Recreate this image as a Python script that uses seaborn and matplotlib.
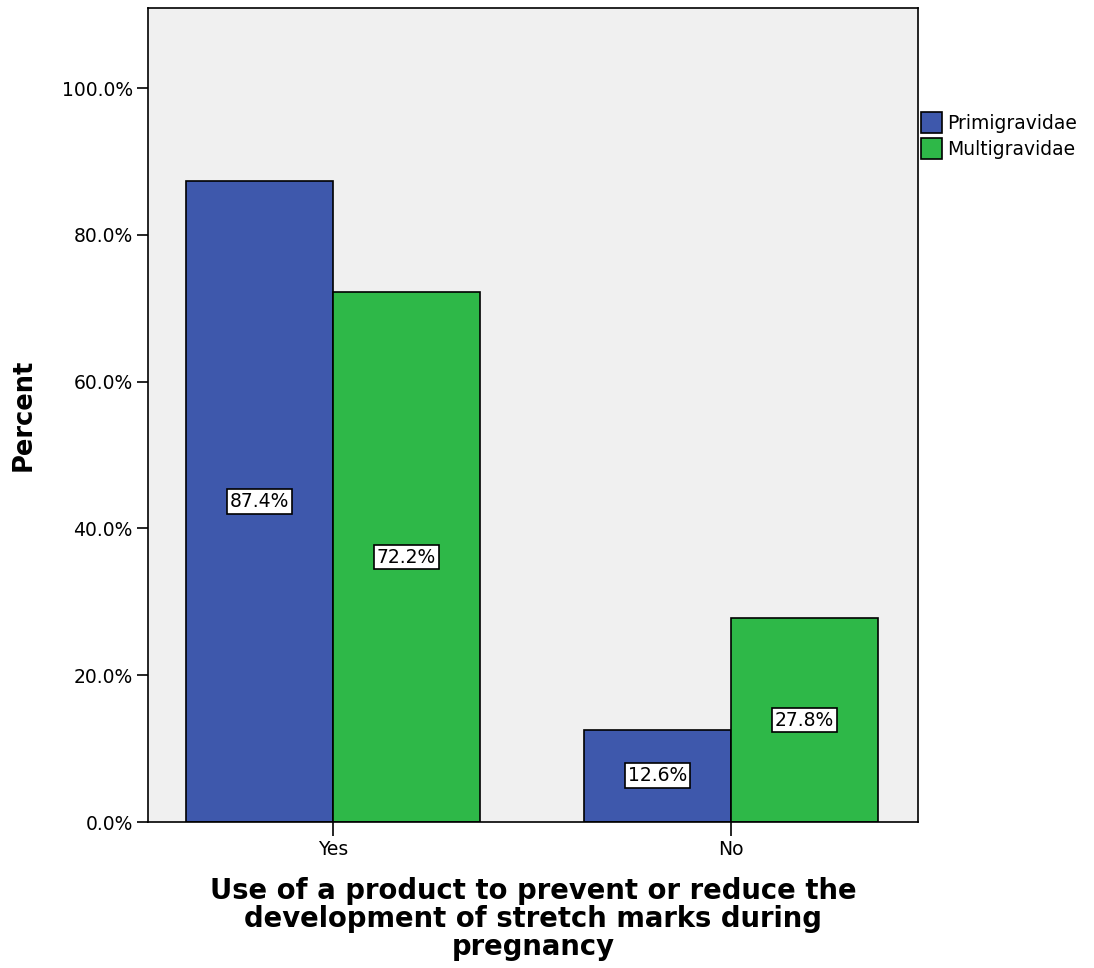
import matplotlib.pyplot as plt
import seaborn as sns
import pandas as pd

sns.set_theme(style="white")
plt.rcParams['font.family'] = ['DejaVu Sans']
plt.rcParams['text.color'] = 'black'
plt.rcParams['axes.labelcolor'] = 'black'
plt.rcParams['xtick.color'] = 'black'
plt.rcParams['ytick.color'] = 'black'

categories = ["Yes", "No"]
groups = ["Primigravidae", "Multigravidae"]
primigravidae = [87.4, 12.6]
multigravidae = [72.2, 27.8]
y_ticks = [0, 20, 40, 60, 80, 100]

data = pd.DataFrame({
    "answer": categories * 2,
    "group": [groups[0]] * 2 + [groups[1]] * 2,
    "percent": primigravidae + multigravidae,
})

palette = {"Primigravidae": "#3E58AC", "Multigravidae": "#2EB848"}

fig = plt.figure(figsize=(10.94, 9.68), dpi=100)
ax = fig.add_axes([0.1353, 0.1508, 0.7037, 0.8409])
ax.set_facecolor("#F0F0F0")

sns.barplot(data=data, x="answer", y="percent", hue="group", order=categories,
            hue_order=groups, palette=palette, width=0.74, saturation=1,
            edgecolor="black", linewidth=1.2, ax=ax)

# value labels in the middle of each bar
for container in ax.containers:
    for bar in container:
        h = bar.get_height()
        ax.text(bar.get_x() + bar.get_width() / 2, h / 2, f"{h:.1f}%",
                ha="center", va="center", fontsize=13.5,
                bbox=dict(facecolor="white", edgecolor="black", linewidth=1.2, pad=2))

ax.set_xlim(-0.465, 1.47)
ax.set_ylim(0, 110.9)
ax.set_yticks(y_ticks)
ax.set_yticklabels([f"{t:.1f}%" for t in y_ticks], fontsize=13.5)
ax.tick_params(axis="x", labelsize=13.5, length=10, width=1.2, direction="out", bottom=True, pad=3)
ax.tick_params(axis="y", length=8, width=1.2, direction="out", left=True, pad=3)

for s in ax.spines.values():
    s.set_color("black")
    s.set_linewidth(1.2)

ax.set_ylabel("Percent", fontsize=18.5, fontweight="bold", labelpad=18)
ax.set_xlabel("Use of a product to prevent or reduce the\ndevelopment of stretch marks during\npregnancy",
              fontsize=19.8, fontweight="bold", linespacing=1.0, labelpad=13)

ax.legend(loc="upper left", bbox_to_anchor=(0.842, 0.884), bbox_transform=fig.transFigure,
          frameon=False, fontsize=13.5, handlelength=1.1, handleheight=1.3,
          handletextpad=0.3, labelspacing=0.3, borderaxespad=0, borderpad=0)
for h in ax.get_legend().legend_handles:
    h.set_edgecolor("black")
    h.set_linewidth(1.2)

fig.savefig("out.png", dpi=100)
